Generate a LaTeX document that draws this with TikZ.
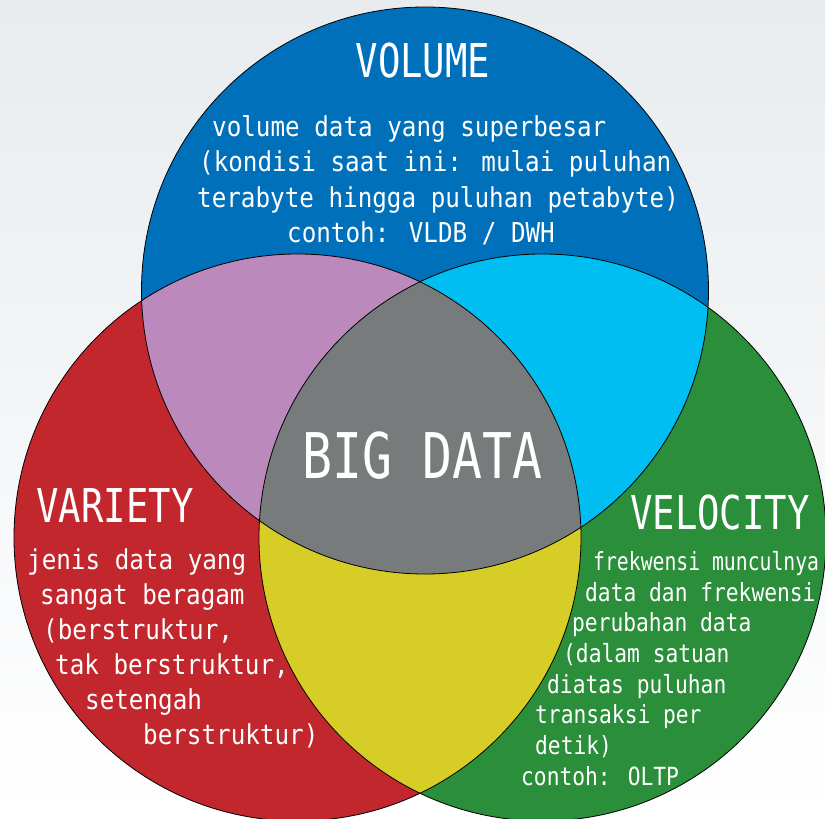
\documentclass[tikz,border=0pt]{standalone}
\usepackage{fontspec}
\newfontfamily\titlefont[FakeStretch=0.80]{DejaVu Sans Mono}
\newfontfamily\bigfont[FakeStretch=0.79]{DejaVu Sans Mono}
\newfontfamily\bodyfont[FakeStretch=0.885]{DejaVu Sans Mono}
\newfontfamily\velfont[FakeStretch=0.85]{DejaVu Sans Mono}
\newfontfamily\velfontA[FakeStretch=0.79]{DejaVu Sans Mono}
\definecolor{bgtop}{RGB}{232,236,239}
\definecolor{cblue}{RGB}{0,112,186}
\definecolor{cpurple}{RGB}{187,137,187}
\definecolor{ccyan}{RGB}{0,189,242}
\definecolor{cgray}{RGB}{119,123,124}
\definecolor{cred}{RGB}{193,39,45}
\definecolor{cgreen}{RGB}{42,142,58}
\definecolor{cyellow}{RGB}{215,205,39}
\begin{document}
\begin{tikzpicture}[x=1pt,y=-1pt,
  ttl/.style={text=white,inner sep=0pt,anchor=base,font=\titlefont\fontsize{46.6}{46.6}\selectfont},
  bigttl/.style={text=white,inner sep=0pt,anchor=base,font=\bigfont\fontsize{63}{63}\selectfont},
  body/.style={text=white,inner sep=0pt,anchor=base west,font=\bodyfont\fontsize{27.4}{27.4}\selectfont},
  vbody/.style={text=white,inner sep=0pt,anchor=base west,font=\velfont\fontsize{25}{25}\selectfont},
  vbodyA/.style={text=white,inner sep=0pt,anchor=base west,font=\velfontA\fontsize{25}{25}\selectfont},
  rim/.style={draw=black,line width=0.8pt}]
\useasboundingbox (0,0) rectangle (825,819);
\shade[top color=bgtop,bottom color=white] (0,0) rectangle (825,819);
\coordinate (cB) at (425,290.5);
\coordinate (cR) at (297.5,537.5);
\coordinate (cG) at (542.5,537.5);
\def\rr{283.5pt}
% base fills
\fill[cblue] (cB) circle[radius=\rr];
\fill[cred] (cR) circle[radius=\rr];
\fill[cgreen] (cG) circle[radius=\rr];
% pairwise overlaps
\begin{scope}
  \clip (cB) circle[radius=\rr];
  \fill[cpurple] (cR) circle[radius=\rr];
  \fill[ccyan] (cG) circle[radius=\rr];
\end{scope}
\begin{scope}
  \clip (cR) circle[radius=\rr];
  \fill[cyellow] (cG) circle[radius=\rr];
\end{scope}
\begin{scope}
  \clip (cB) circle[radius=\rr];
  \clip (cR) circle[radius=\rr];
  \fill[cgray] (cG) circle[radius=\rr];
\end{scope}
% outlines
\draw[rim] (cB) circle[radius=\rr];
\draw[rim] (cR) circle[radius=\rr];
\draw[rim] (cG) circle[radius=\rr];
% titles
\node[ttl] (tvol) at (423,77) {VOLUME};
\node[ttl] (tvar) at (115,522) {VARIETY};
\node[ttl] (tvel) at (720,529) {VELOCITY};
\node[bigttl] (tbig) at (422.5,478) {BIG DATA};
% volume text
\node[body] (vo1) at (212,136) {volume data yang superbesar};
\node[body] (vo2) at (199,171.5) {(kondisi saat ini: mulai puluhan};
\node[body] (vo3) at (197,207) {terabyte hingga puluhan petabyte)};
\node[body] (vo4) at (287,242) {contoh: VLDB / DWH};
% variety text
\node[body] (va1) at (27,569) {jenis data yang};
\node[body] (va2) at (40,604) {sangat beragam};
\node[body] (va3) at (43,639) {(berstruktur,};
\node[body] (va4) at (55,674) {tak berstruktur,};
\node[body] (va5) at (85,709) {setengah};
\node[body] (va6) at (143,744) {berstruktur)};
% velocity text
\node[vbodyA] (ve1) at (593,570) {frekwensi munculnya};
\node[vbody] (ve2) at (585,601) {data dan frekwensi};
\node[vbody] (ve3) at (572,631) {perubahan data};
\node[vbody] (ve4) at (563,662) {(dalam satuan};
\node[vbody] (ve5) at (547,693) {diatas puluhan};
\node[vbody] (ve6) at (535,723) {transaksi per};
\node[vbody] (ve7) at (535,754) {detik)};
\node[vbody] (ve8) at (521,785) {contoh: OLTP};
\end{tikzpicture}
\end{document}
